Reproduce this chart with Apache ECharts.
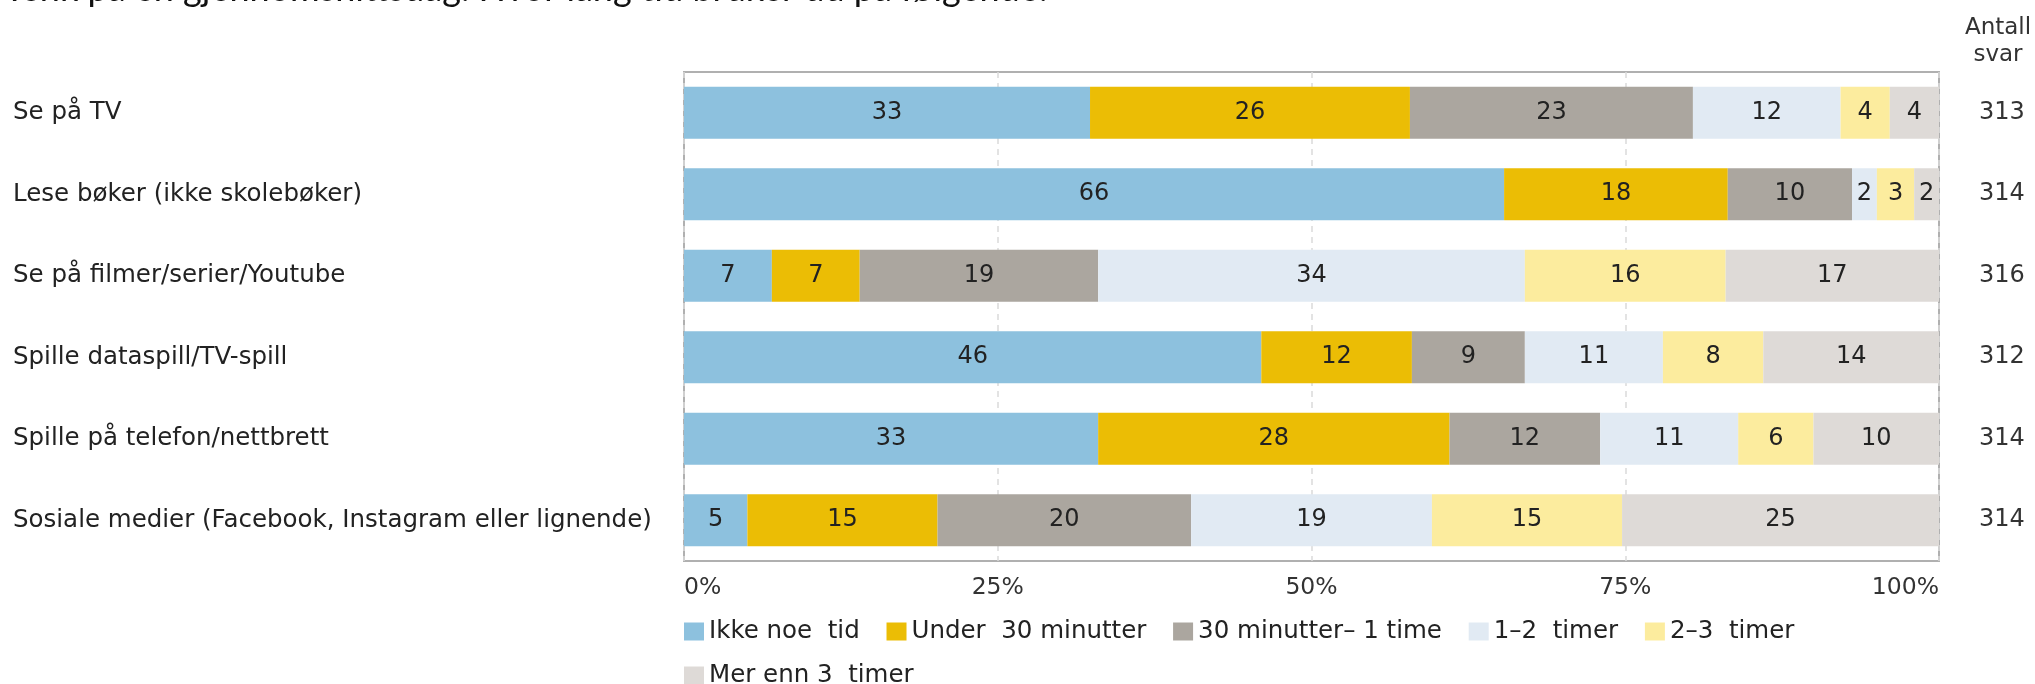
<!DOCTYPE html>
<html>
<head>
<meta charset="utf-8">
<script src="https://cdn.jsdelivr.net/npm/echarts@6/dist/echarts.min.js"></script>
<style>
  html, body { margin: 0; padding: 0; background: #fff; }
  #chart { width: 2035px; height: 684px; }
</style>
</head>
<body>
<div id="chart"></div>
<script>
// kategorier, ovenfra og ned
var categories = [
  'Se på TV',
  'Lese bøker (ikke skolebøker)',
  'Se på filmer/serier/Youtube',
  'Spille dataspill/TV-spill',
  'Spille på telefon/nettbrett',
  'Sosiale medier (Facebook, Instagram eller lignende)'
];
var seriesNames = ['Ikke noe  tid', 'Under  30 minutter', '30 minutter– 1 time', '1–2  timer', '2–3  timer', 'Mer enn 3  timer'];
var colors = ['#8DC1DE', '#EBBD05', '#ABA69F', '#E1EAF3', '#FCEC9E', '#DEDAD7'];

// prosent per kategori
var ikkeNoeTid = [33, 66, 7, 46, 33, 5];
var under30 = [26, 18, 7, 12, 28, 15];
var min30til1t = [23, 10, 19, 9, 12, 20];
var t1til2 = [12, 2, 34, 11, 11, 19];
var t2til3 = [4, 3, 16, 8, 6, 15];
var over3 = [4, 2, 17, 14, 10, 25];

var antallSvar = [313, 314, 316, 312, 314, 314];
var xTicks = [0, 25, 50, 75, 100];

var values = [ikkeNoeTid, under30, min30til1t, t1til2, t2til3, over3];

// summen av avrundede tall er ikke alltid 100, så stolpene skaleres til 100 %
var rowSum = categories.map(function (c, i) {
  return values.reduce(function (s, arr) { return s + arr[i]; }, 0);
});

var chart = echarts.init(document.getElementById('chart'));
var font = 'DejaVu Sans';

var series = values.map(function (arr, k) {
  return {
    name: seriesNames[k],
    type: 'bar',
    stack: 'total',
    barWidth: 52,
    itemStyle: { color: colors[k] },
    label: {
      show: true,
      position: 'inside',
      fontFamily: font,
      fontSize: 24,
      color: '#222',
      formatter: function (p) { return arr[p.dataIndex]; }
    },
    data: arr.map(function (v, i) { return v / rowSum[i] * 100; })
  };
});

var option = {
  backgroundColor: '#fff',
  animation: false,
  color: colors,
  textStyle: { fontFamily: font },
  grid: {
    left: 684, right: 96, top: 72, bottom: 123,
    show: true, borderColor: '#b0b0b0', borderWidth: 2, backgroundColor: 'transparent'
  },
  legend: {
    left: 684, top: 619, width: 1255,
    padding: 0,
    icon: 'rect', itemWidth: 20, itemHeight: 18, itemGap: 19,
    textStyle: { fontFamily: font, fontSize: 24.5, color: '#222' },
    // ekstra mellomrom bak teksten gir litt luft til neste element
    formatter: function (name) { return name + ' '; },
    data: seriesNames
  },
  graphic: [
    {
      type: 'text',
      style: {
        x: 4, y: -11, verticalAlign: 'middle',
        text: 'Tenk på en gjennomsnittsdag. Hvor lang tid bruker du på følgende:',
        fontFamily: 'Lato', fontSize: 36, fill: '#111'
      }
    },
    {
      type: 'text',
      style: {
        x: 1998, y: 42, align: 'center', verticalAlign: 'middle',
        text: 'Antall\nsvar', fontFamily: font, fontSize: 23, lineHeight: 27, fill: '#333'
      }
    }
  ],
  xAxis: {
    type: 'value', min: xTicks[0], max: xTicks[xTicks.length - 1], interval: 25,
    axisLine: { show: false }, axisTick: { show: false },
    axisLabel: {
      margin: 15, fontFamily: font, fontSize: 23.5, color: '#333',
      formatter: '{value}%', alignMinLabel: 'left', alignMaxLabel: 'right'
    },
    splitLine: { show: true, lineStyle: { color: '#dadada', type: [6, 5], width: 1.5 } }
  },
  yAxis: [
    {
      type: 'category', data: categories, inverse: true,
      axisLine: { show: false }, axisTick: { show: false },
      axisLabel: { align: 'left', margin: 671, fontFamily: font, fontSize: 24.5, color: '#222' }
    },
    {
      type: 'category', data: antallSvar, inverse: true, position: 'right',
      axisLine: { show: false }, axisTick: { show: false },
      axisLabel: { margin: 40, fontFamily: font, fontSize: 24, color: '#333' }
    }
  ],
  series: series
};

chart.setOption(option);
</script>
</body>
</html>
